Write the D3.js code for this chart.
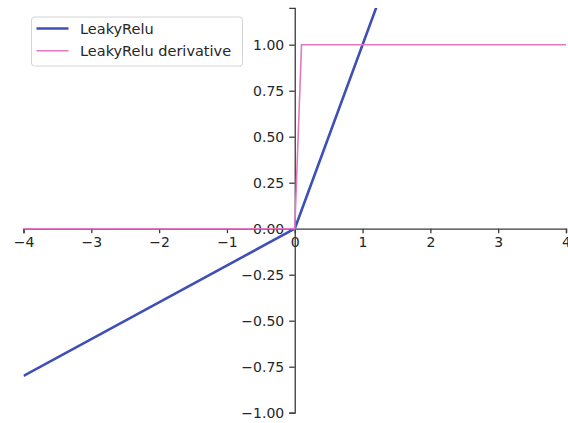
<!DOCTYPE html>
<html>
<head>
<meta charset="utf-8">
<script src="https://cdn.jsdelivr.net/npm/d3@7"></script>
<style>
  html, body { margin: 0; padding: 0; background: #fff; }
  svg { display: block; }
  text { font-family: "DejaVu Sans", sans-serif; fill: #262626; }
</style>
</head>
<body>
<svg id="chart" width="568" height="423"></svg>
<script>
// Breakpoints of the piecewise-linear curves
const reluX = [-4, 0, 4];
const reluY = [-0.8, 0, 4];
const derivX = [-4, 0, 0.1, 4];
const derivY = [0, 0, 1, 1];

const xTicks = [-4, -3, -2, -1, 0, 1, 2, 3, 4];
const yTicks = [-1.0, -0.75, -0.5, -0.25, 0, 0.25, 0.5, 0.75, 1.0];
const seriesNames = ["LeakyRelu", "LeakyRelu derivative"];
const seriesColors = ["#3f4fb8", "#e377c2"];

const svg = d3.select("#chart");
const x = d3.scaleLinear().domain([-4, 4]).range([23.5, 566]);
const y = d3.scaleLinear().domain([-1, 1.2]).range([412.7, 7.9]);

svg.append("defs").append("clipPath").attr("id", "plot-clip")
  .append("rect")
  .attr("x", x(-4)).attr("y", y(1.2))
  .attr("width", x(4) - x(-4)).attr("height", y(-1) - y(1.2));

const fmtY = d => d3.format(".2f")(d).replace("-", "\u2212");
const fmtX = d => String(d).replace("-", "\u2212");

// x axis through y = 0
const xAxis = svg.append("g")
  .attr("transform", `translate(0,${y(0)})`)
  .call(d3.axisBottom(x).tickValues(xTicks).tickFormat(fmtX).tickSizeOuter(0).tickSize(4.5).tickPadding(4));

// y axis through x = 0
const yAxis = svg.append("g")
  .attr("transform", `translate(${x(0)},0)`)
  .call(d3.axisLeft(y).tickValues(yTicks).tickFormat(fmtY).tickSizeOuter(0).tickSize(5.5).tickPadding(5));

[xAxis, yAxis].forEach(g => {
  g.select(".domain").attr("stroke", "#3a3a3a").attr("stroke-width", 1.3);
  g.selectAll(".tick line").attr("stroke", "#3a3a3a").attr("stroke-width", 1.3);
  g.selectAll(".tick text").attr("font-size", 14).attr("fill", "#262626")
    .attr("font-family", "DejaVu Sans, sans-serif");
});

const line = d3.line().x(d => x(d[0])).y(d => y(d[1]));
const plot = svg.append("g").attr("clip-path", "url(#plot-clip)");

plot.append("path")
  .datum(reluX.map((v, i) => [v, reluY[i]]))
  .attr("d", line).attr("fill", "none")
  .attr("stroke", seriesColors[0]).attr("stroke-width", 2.6)
  .attr("stroke-linejoin", "round");

plot.append("path")
  .datum(derivX.map((v, i) => [v, derivY[i]]))
  .attr("d", line).attr("fill", "none")
  .attr("stroke", seriesColors[1]).attr("stroke-width", 1.6);

// Legend
const legend = svg.append("g");
legend.append("rect")
  .attr("x", 31.5).attr("y", 17).attr("width", 211).attr("height", 49)
  .attr("rx", 3).attr("fill", "#fff").attr("fill-opacity", 0.85)
  .attr("stroke", "#d4d4d4").attr("stroke-width", 1);
seriesNames.forEach((name, i) => {
  const ly = 28.5 + i * 22.3;
  legend.append("line")
    .attr("x1", 36.5).attr("x2", 68.5).attr("y1", ly).attr("y2", ly)
    .attr("stroke", seriesColors[i]).attr("stroke-width", i === 0 ? 2.6 : 1.6);
  legend.append("text")
    .attr("x", 80).attr("y", ly + 5).attr("font-size", 14.5).text(name);
});
</script>
</body>
</html>
